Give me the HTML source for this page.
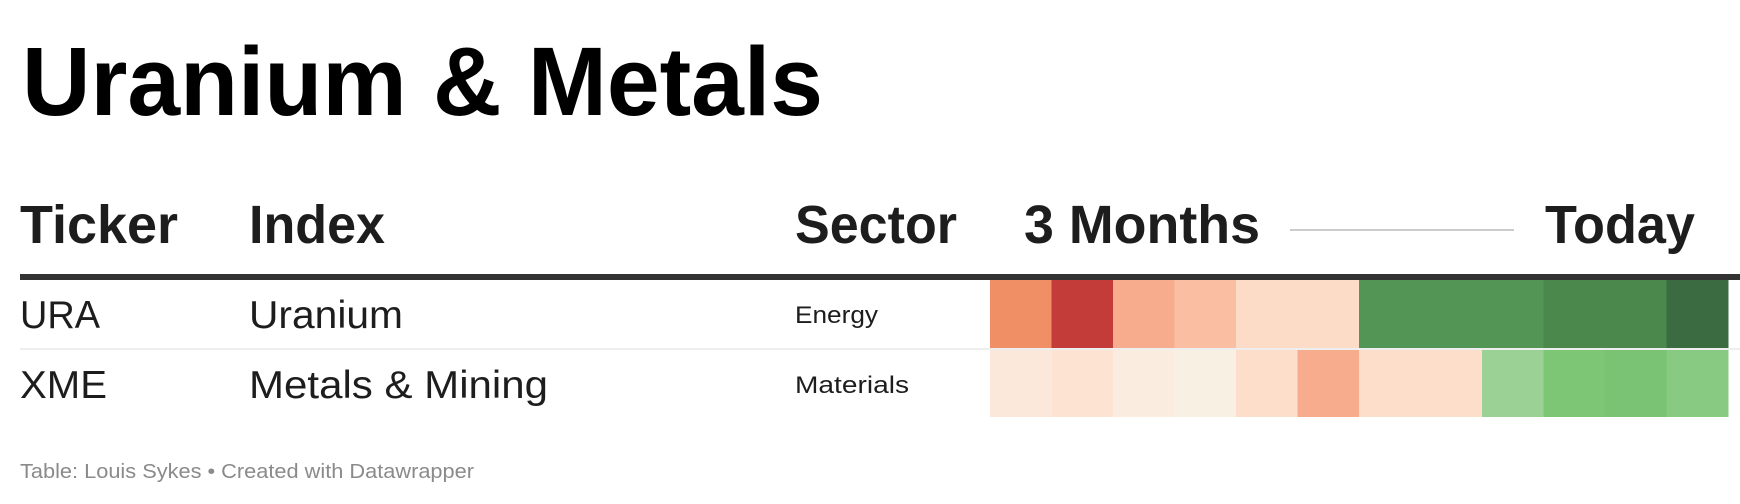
<!DOCTYPE html>
<html><head><meta charset="utf-8"><style>
body{margin:0;background:#fff;}
svg{display:block;font-family:"Liberation Sans",sans-serif;}
</style></head><body>
<svg width="1740" height="504" viewBox="0 0 1740 504" xmlns="http://www.w3.org/2000/svg">
<text x="22" y="115" font-size="97" font-weight="bold" fill="#000" textLength="801" lengthAdjust="spacingAndGlyphs">Uranium &amp; Metals</text>
<g font-size="54" font-weight="bold" fill="#1d1d1d">
<text x="20" y="243" textLength="158" lengthAdjust="spacingAndGlyphs">Ticker</text>
<text x="249" y="243" textLength="136" lengthAdjust="spacingAndGlyphs">Index</text>
<text x="795" y="243" textLength="162" lengthAdjust="spacingAndGlyphs">Sector</text>
<text x="1024" y="243" textLength="236" lengthAdjust="spacingAndGlyphs">3 Months</text>
<text x="1545" y="243" textLength="150" lengthAdjust="spacingAndGlyphs">Today</text>
</g>
<line x1="1290" y1="230" x2="1514" y2="230" stroke="#cccccc" stroke-width="2"/>
<rect x="20" y="274" width="1720" height="6" fill="#333"/>
<rect x="20" y="348" width="1720" height="2" fill="#eeeeee"/>
<g fill="#1d1d1d">
<text x="20" y="328" font-size="39" textLength="80" lengthAdjust="spacingAndGlyphs">URA</text>
<text x="249" y="328" font-size="39" textLength="154" lengthAdjust="spacingAndGlyphs">Uranium</text>
<text x="795" y="323" font-size="24" textLength="83" lengthAdjust="spacingAndGlyphs">Energy</text>
</g>
<g fill="#1d1d1d">
<text x="20" y="398" font-size="39" textLength="87" lengthAdjust="spacingAndGlyphs">XME</text>
<text x="249" y="398" font-size="39" textLength="299" lengthAdjust="spacingAndGlyphs">Metals &amp; Mining</text>
<text x="795" y="393" font-size="24" textLength="114" lengthAdjust="spacingAndGlyphs">Materials</text>
</g>
<g id="cells"></g>
<text x="20" y="478" font-size="20" fill="#8a8a8a" textLength="454" lengthAdjust="spacingAndGlyphs">Table: Louis Sykes • Created with Datawrapper</text>
</svg>
<script>
const tickers = ["URA", "XME"];
const uraValues = [-4, -8, -3, -2.5, -1, -1, 6, 6, 6, 7, 7, 9];
const xmeValues = [-0.5, -0.7, -0.3, 0, -0.9, -3, -0.9, -0.9, 2, 3, 3.2, 2.6];
const stopValues = [-8, -4, -3, -2.5, -1, -0.5, 0, 2, 3, 6, 7, 9];
const stopColors = ["#c43c39","#f08e65","#f7ad8d","#fabfa3","#fddcc7","#fbe8da","#f8f1e3","#9cd196","#7dc676","#529554","#4a894b","#3b6b40"];
function hex(c){return [1,3,5].map(i=>parseInt(c.substr(i,2),16));}
function color(v){
  if(v<=stopValues[0])return stopColors[0];
  for(let i=1;i<stopValues.length;i++){
    if(v<=stopValues[i]){
      const t=(v-stopValues[i-1])/(stopValues[i]-stopValues[i-1]);
      const a=hex(stopColors[i-1]),b=hex(stopColors[i]);
      return "rgb("+a.map((x,k)=>Math.round(x+(b[k]-x)*t)).join(",")+")";
    }
  }
  return stopColors[stopColors.length-1];
}
const x0=990,x1=1728,rowTops=[280,350],rowH=[68,67];
const g=document.getElementById("cells");
[uraValues,xmeValues].forEach((vals,r)=>{
  const w=(x1-x0)/vals.length;
  vals.forEach((v,i)=>{
    const rc=document.createElementNS("http://www.w3.org/2000/svg","rect");
    
    
    rc.setAttribute("x",x0+i*w);
    rc.setAttribute("y",rowTops[r]);
    rc.setAttribute("width",w+0.5);
    rc.setAttribute("height",rowH[r]);
    rc.setAttribute("fill",color(v));
    g.appendChild(rc);
  });
});
</script>
</body></html>
